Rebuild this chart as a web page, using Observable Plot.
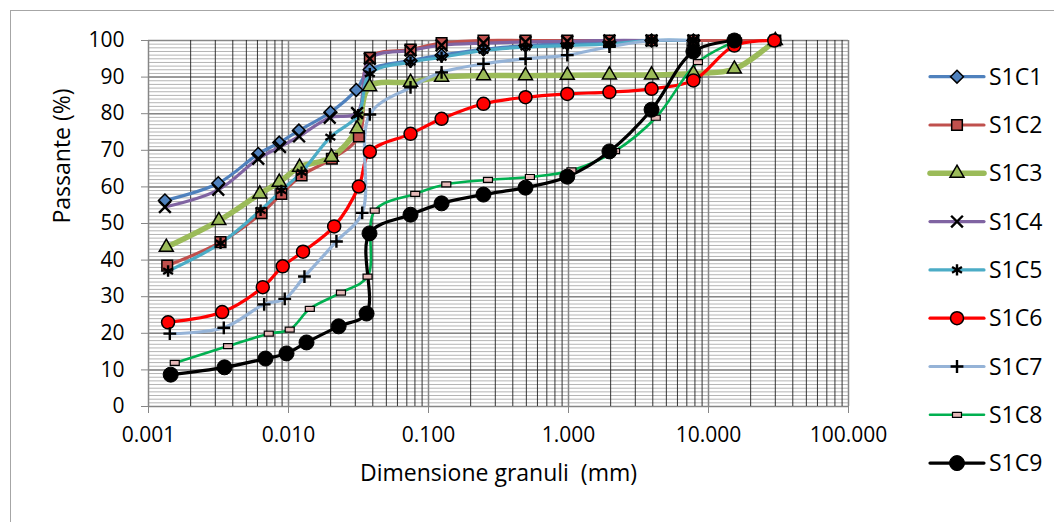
<!DOCTYPE html>
<html>
<head>
<meta charset="utf-8">
<script src="https://cdn.jsdelivr.net/npm/d3@7"></script>
<script src="https://cdn.jsdelivr.net/npm/@observablehq/plot@0.6"></script>
<style>
  html, body { margin: 0; padding: 0; background: #fff; overflow: hidden; }
  #wrap { position: relative; width: 1054px; height: 522px; overflow: hidden; background: #fff; }
  #border { position: absolute; left: 10px; top: 10px; width: 1100px; height: 600px; border-left: 1.5px solid #a6a6a6; border-top: 1.5px solid #a6a6a6; }
  #chart { position: absolute; left: 0; top: 0; }
  #legend { position: absolute; left: 0; top: 0; }
</style>
</head>
<body>
<div id="wrap"><div id="border"></div><div id="chart"></div><svg id="legend" width="1054" height="522"></svg></div>
<script>
// ---- data (grain size mm / passing %) ----
const seriesNames = ["S1C1","S1C2","S1C3","S1C4","S1C5","S1C6","S1C7","S1C8","S1C9"];

const S1C1_x = [0.00131,0.00315,0.00608,0.00859,0.01186,0.01995,0.0305,0.038,0.0744,0.124,0.247,0.493,0.98,1.96,3.92,7.8];
const S1C1_y = [56.3,61.0,69.0,72.1,75.4,80.4,86.5,92.0,94.5,96.0,97.6,98.6,99.2,99.6,100,100];

const S1C2_x = [0.00136,0.00327,0.00641,0.0089,0.0124,0.0204,0.0318,0.0381,0.0744,0.124,0.247,0.493,0.98,1.96,3.92,7.8,15.3,30];
const S1C2_y = [38.5,44.9,52.8,58.1,63.1,67.7,73.8,95.3,97.5,99.3,100,100,100,100,100,100,100,100];

const S1C3_x = [0.00134,0.00318,0.00624,0.00859,0.0120,0.0203,0.0309,0.038,0.0744,0.124,0.247,0.493,0.98,1.96,3.92,7.8,15.3,30];
const S1C3_y = [43.5,50.8,58.1,61.3,65.4,68.1,75.9,87.4,88.6,90.0,90.4,90.4,90.5,90.6,90.6,91.0,92.2,100];

const S1C4_x = [0.00131,0.00315,0.00608,0.0087,0.0119,0.0197,0.0309,0.0381,0.0744,0.124,0.247,0.493,0.98,1.96,3.92,7.8];
const S1C4_y = [54.5,59.2,67.7,70.9,73.8,78.9,80.2,95.0,97.3,98.7,99.3,99.6,99.8,100,100,100];

const S1C5_x = [0.00138,0.00327,0.00632,0.0089,0.0124,0.0199,0.0315,0.0381,0.0744,0.124,0.247,0.493,0.98,1.96,3.92,7.8];
const S1C5_y = [37.0,44.6,53.6,59.0,64.0,73.6,79.7,90.9,94.1,95.4,97.3,98.2,98.6,99.1,100,100];

const S1C6_x = [0.00138,0.00336,0.00655,0.00909,0.0127,0.0212,0.0318,0.0381,0.0744,0.124,0.247,0.493,0.98,1.96,3.92,7.8,15.3,29.5];
const S1C6_y = [23.0,25.8,32.6,38.3,42.3,49.2,60.1,69.6,74.5,78.6,82.7,84.5,85.4,85.9,86.8,89.1,98.6,100];

const S1C7_x = [0.00142,0.00345,0.0067,0.0094,0.013,0.022,0.0336,0.0381,0.0744,0.124,0.247,0.493,0.98,1.96,3.92,7.8];
const S1C7_y = [19.9,21.5,27.9,29.4,35.5,45.1,52.9,79.8,87.2,91.3,93.6,95.0,96.0,98.3,100,100];

const S1C8_x = [0.00154,0.0037,0.00723,0.0102,0.0142,0.0237,0.0367,0.0413,0.0804,0.134,0.266,0.53,1.05,2.15,4.2,8.4,16];
const S1C8_y = [11.9,16.5,19.9,21.0,26.7,31.1,35.5,53.5,58.1,60.7,61.9,62.7,64.5,69.8,78.9,94.1,100];

const S1C9_x = [0.00144,0.00349,0.00685,0.00968,0.01345,0.0228,0.0361,0.0379,0.0744,0.124,0.247,0.493,0.98,1.96,3.92,7.8,15.3];
const S1C9_y = [8.7,10.7,13.1,14.5,17.5,21.9,25.4,47.3,52.4,55.5,57.9,59.8,62.8,69.7,81.1,97.0,100];

const xTicks = [0.001,0.01,0.1,1,10,100];
const yTicks = [0,10,20,30,40,50,60,70,80,90,100];
const xTitle = "Dimensione granuli  (mm)";
const yTitle = "Passante (%)";

// ---- styles ----
const smallRect = { draw(ctx) { ctx.rect(-4.5, -2.5, 9, 5); } };
const styles = {
  S1C1: {color:"#4F81BD", width:3.2, symbol:"diamond2", r:5.8, fill:"#4F81BD", mstroke:"#000", msw:1.5},
  S1C2: {color:"#C0504D", width:3.2, symbol:"square", r:6.0, fill:"#C0504D", mstroke:"#000", msw:1.5},
  S1C3: {color:"#9BBB59", width:5.5, symbol:"triangle", r:5.2, fill:"#9BBB59", mstroke:"#000", msw:1.5},
  S1C4: {color:"#8064A2", width:3.2, symbol:"times", r:5.4, fill:"none", mstroke:"#000", msw:2.4},
  S1C5: {color:"#4BACC6", width:3.2, symbol:"asterisk", r:5.4, fill:"none", mstroke:"#000", msw:2.4},
  S1C6: {color:"#FF0000", width:3.2, symbol:"circle", r:6.5, fill:"#FF0000", mstroke:"#000", msw:1.5},
  S1C7: {color:"#95B3D7", width:3.2, symbol:"plus", r:4.2, fill:"none", mstroke:"#000", msw:2.4},
  S1C8: {color:"#00B050", width:2.6, symbol:smallRect, r:3, fill:"#E6B9B8", mstroke:"#000", msw:1.2},
  S1C9: {color:"#000000", width:3.2, symbol:"circle", r:7.5, fill:"#000000", mstroke:"#000", msw:1}
};
const xs = {S1C1:S1C1_x,S1C2:S1C2_x,S1C3:S1C3_x,S1C4:S1C4_x,S1C5:S1C5_x,S1C6:S1C6_x,S1C7:S1C7_x,S1C8:S1C8_x,S1C9:S1C9_x};
const ys = {S1C1:S1C1_y,S1C2:S1C2_y,S1C3:S1C3_y,S1C4:S1C4_y,S1C5:S1C5_y,S1C6:S1C6_y,S1C7:S1C7_y,S1C8:S1C8_y,S1C9:S1C9_y};
const tables = {};
for (const n of seriesNames) tables[n] = xs[n].map((x, i) => ({x, y: ys[n][i]}));

const minorX = [];
for (let e = -3; e < 2; e++) for (let k = 2; k <= 9; k++) minorX.push(k * Math.pow(10, e));
const minorY = d3.range(0, 101, 1);

const font = "'Open Sans', sans-serif";
const marks = [
  Plot.ruleY(minorY, {stroke:"#b4b4b4", strokeWidth:1}),
  Plot.ruleY(yTicks, {stroke:"#868686", strokeWidth:1.5}),
  Plot.ruleX(minorX, {stroke:"#202020", strokeWidth:0.9}),
  Plot.ruleX(xTicks, {stroke:"#868686", strokeWidth:1.5}),
  Plot.axisY({ticks:yTicks, tickSize:7, tickPadding:17, stroke:"#868686", fill:"#000", fontSize:21, label:null}),
  Plot.axisX({ticks:xTicks, tickSize:7, tickPadding:14, stroke:"#868686", fill:"#000", fontSize:21,
    tickFormat: d3.format(".3f"), label:null}),
  Plot.text([xTitle], {frameAnchor:"bottom", dy:74, fontSize:23, fill:"#000", text:d => d}),
  Plot.text([yTitle], {frameAnchor:"left", rotate:-90, dx:-86, fontSize:23, fill:"#000", text:d => d})
];
for (const n of seriesNames) {
  const s = styles[n];
  marks.push(Plot.line(tables[n], {x:"x", y:"y", stroke:s.color, strokeWidth:s.width, curve:"catmull-rom", strokeLinejoin:"round"}));
}
for (const n of seriesNames) {
  const s = styles[n];
  marks.push(Plot.dot(tables[n], {x:"x", y:"y", symbol:s.symbol, r:s.r, fill:s.fill, stroke:s.mstroke, strokeWidth:s.msw}));
}

const chart = Plot.plot({
  width: 1054, height: 522,
  marginLeft: 148, marginRight: 206, marginTop: 40, marginBottom: 116,
  style: {fontFamily: font, fontSize: "21px", background: "transparent", color: "#000"},
  x: {type:"log", domain:[0.001, 100]},
  y: {domain:[0, 100]},
  marks
});
document.getElementById("chart").appendChild(chart);

// ---- legend ----
const leg = d3.select("#legend");
seriesNames.forEach((n, i) => {
  const s = styles[n];
  const cy = 76.7 + i * 48.3;
  const g = leg.append("g");
  g.append("line").attr("x1", 930).attr("x2", 984).attr("y1", cy).attr("y2", cy)
    .attr("stroke", s.color).attr("stroke-width", s.width).attr("stroke-linecap", "round");
  const type = typeof s.symbol === "string" ? ({diamond2:d3.symbolDiamond2, square:d3.symbolSquare, triangle:d3.symbolTriangle, times:d3.symbolTimes, asterisk:d3.symbolAsterisk, circle:d3.symbolCircle, plus:d3.symbolPlus})[s.symbol] : s.symbol;
  g.append("path").attr("d", d3.symbol(type, Math.PI * s.r * s.r)()).attr("transform", `translate(957,${cy})`)
    .attr("fill", s.fill).attr("stroke", s.mstroke).attr("stroke-width", s.msw);
  g.append("text").attr("x", 989).attr("y", cy).attr("dy", "0.35em").attr("font-family", font)
    .attr("font-size", 23).text(n);
});
</script>
</body>
</html>
